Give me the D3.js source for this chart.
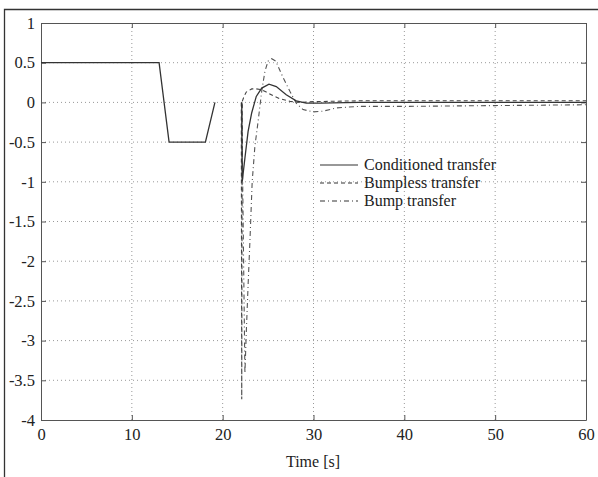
<!DOCTYPE html>
<html>
<head>
<meta charset="utf-8">
<script src="https://cdn.jsdelivr.net/npm/d3@7"></script>
<style>
  html, body { margin: 0; padding: 0; background: #fff; }
  svg { display: block; }
  text { font-family: "Liberation Serif", "Times New Roman", "DejaVu Serif", serif; fill: #222; }
</style>
</head>
<body>
<svg id="chart" width="598" height="477"></svg>
<script>
// ---- data ----
const xTicks = [0, 10, 20, 30, 40, 50, 60];
const yTicks = [1, 0.5, 0, -0.5, -1, -1.5, -2, -2.5, -3, -3.5, -4];
const seriesNames = ["Conditioned transfer", "Bumpless transfer", "Bump transfer"];
const xLabel = "Time [s]";

// common part before switching
const preT = [0, 13, 14.1, 18.1, 19.15];
const preV = [0.5, 0.5, -0.5, -0.5, 0];

// Conditioned transfer (solid)
const condT = [22.1, 22.15, 22.45, 22.8, 23.2, 23.7, 24.3, 25.1, 25.9, 27.0, 28.1, 29.2, 30.7, 35, 40, 50, 60];
const condV = [0, -1.0, -0.70, -0.365, -0.13, 0.075, 0.18, 0.23, 0.20, 0.097, 0.02, -0.01, -0.01, 0.0, 0.0, 0.0, 0.0];

// Bumpless transfer (dashed)
const bumplessT = [22.05, 22.1, 22.15, 22.35, 22.6, 23.2, 23.7, 24.3, 24.8, 25.55, 26.3, 27.4, 28.5, 30, 35, 40, 50, 60];
const bumplessV = [0, -3.74, 0.01, 0.075, 0.13, 0.17, 0.17, 0.16, 0.13, 0.084, 0.046, 0.013, 0.0, 0.01, 0.02, 0.02, 0.02, 0.02];

// Bump transfer (dash-dot)
const bumpT = [22.1, 22.45, 22.6, 22.8, 23.0, 23.25, 23.55, 23.9, 24.3, 24.65, 25.0, 25.4, 25.85, 26.5, 27.4, 28.1, 28.85, 29.95, 31.05, 32.5, 35, 40, 50, 60];
const bumpV = [0, -3.41, -2.9, -2.3, -1.75, -1.0, -0.55, -0.24, 0.14, 0.39, 0.52, 0.55, 0.52, 0.35, 0.14, -0.01, -0.09, -0.12, -0.11, -0.07, -0.05, -0.05, -0.04, -0.03];

// ---- chart ----
const svg = d3.select("#chart");
const x = d3.scaleLinear().domain([0, 60]).range([41, 586]);
const y = d3.scaleLinear().domain([-4, 1]).range([420, 23]);
const FONT = '"Liberation Serif", "Times New Roman", serif';

// outer frame (left and top border of the scanned figure)
svg.append("path").attr("d", "M4.5,477 L4.5,9.5 L598,9.5")
  .attr("fill", "none").attr("stroke", "#333").attr("stroke-width", 1.3);

// grid
const grid = svg.append("g").attr("stroke", "#999").attr("stroke-width", 1)
  .attr("stroke-dasharray", "1,3");
xTicks.slice(1, -1).forEach(t => grid.append("line")
  .attr("x1", x(t)).attr("x2", x(t)).attr("y1", y(1)).attr("y2", y(-4)));
yTicks.slice(1, -1).forEach(t => grid.append("line")
  .attr("x1", x(0)).attr("x2", x(60)).attr("y1", y(t)).attr("y2", y(t)));

// axes
const fmt = d => (d === 0 ? "0" : String(d));
const xAxis = d3.axisBottom(x).tickValues(xTicks).tickSizeInner(-5).tickSizeOuter(0).tickPadding(8).tickFormat(fmt);
const xAxisTop = d3.axisTop(x).tickValues(xTicks).tickSizeInner(-5).tickSizeOuter(0).tickFormat("");
const yAxis = d3.axisLeft(y).tickValues(yTicks).tickSizeInner(-5).tickSizeOuter(0).tickPadding(6).tickFormat(fmt);
const yAxisRight = d3.axisRight(y).tickValues(yTicks).tickSizeInner(-5).tickSizeOuter(0).tickFormat("");

function styleAxis(g) {
  g.attr("font-family", FONT);
  g.select(".domain").attr("stroke", "#555");
  g.selectAll(".tick line").attr("stroke", "#555");
  g.selectAll(".tick text").attr("fill", "#222").style("font-family", FONT).style("font-size", "16.5px");
}
svg.append("g").attr("transform", `translate(0,${y(-4)})`).call(xAxis).call(styleAxis);
svg.append("g").attr("transform", `translate(0,${y(1)})`).call(xAxisTop).call(styleAxis);
svg.append("g").attr("transform", `translate(${x(0)},0)`).call(yAxis).call(styleAxis);
svg.append("g").attr("transform", `translate(${x(60)},0)`).call(yAxisRight).call(styleAxis);

// x label
svg.append("text").attr("x", 313).attr("y", 467).attr("text-anchor", "middle")
  .style("font-family", FONT).style("font-size", "16px").text(xLabel);

// lines
const line = d3.line().x(d => x(d[0])).y(d => y(d[1]));
const zip = (a, b) => a.map((v, i) => [v, b[i]]);
const lineColor = "#333";
svg.append("path").datum(zip(preT, preV)).attr("d", line)
  .attr("fill", "none").attr("stroke", lineColor).attr("stroke-width", 1.3);
svg.append("path").datum(zip(bumpT, bumpV)).attr("d", line)
  .attr("fill", "none").attr("stroke", "#555").attr("stroke-width", 1.1)
  .attr("stroke-dasharray", "5,3,1,3");
svg.append("path").datum(zip(bumplessT, bumplessV)).attr("d", line)
  .attr("fill", "none").attr("stroke", "#444").attr("stroke-width", 1.1)
  .attr("stroke-dasharray", "4,3");
svg.append("path").datum(zip(condT, condV)).attr("d", line)
  .attr("fill", "none").attr("stroke", lineColor).attr("stroke-width", 1.3);

// legend
const styles = [null, "4,3", "5,3,1,3"];
const legend = svg.append("g");
seriesNames.forEach((name, i) => {
  const yy = 165 + i * 18;
  legend.append("line").attr("x1", 320).attr("x2", 358).attr("y1", yy).attr("y2", yy)
    .attr("stroke", "#333").attr("stroke-width", 1.1)
    .attr("stroke-dasharray", styles[i]);
  legend.append("text").attr("x", 364).attr("y", yy + 5)
    .style("font-family", FONT).style("font-size", "16px").text(name);
});
</script>
</body>
</html>
